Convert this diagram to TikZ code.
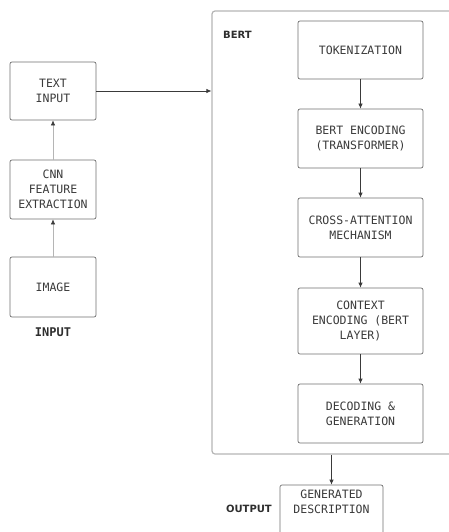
\documentclass[tikz,border=0pt]{standalone}
\usepackage{fontspec}
\setmonofont{DejaVu Sans Mono}
\setsansfont{DejaVu Sans}
\usetikzlibrary{arrows.meta}
\definecolor{ink}{HTML}{3A3A3A}
\definecolor{edge}{HTML}{6E6E6E}
\definecolor{frame}{HTML}{B5B5B5}
\begin{document}
\begin{tikzpicture}
  [x=1pt,y=-1pt,
  blk/.style={draw=edge,line width=0.7pt,rounded corners=2pt,align=center,text=ink,
    font=\ttfamily\fontsize{11.5}{15}\selectfont,
    minimum width=86pt,minimum height=58pt,inner sep=0pt},
  stage/.style={blk,minimum width=125pt},
  tag/.style={text=ink!80!black,font=\sffamily\bfseries\fontsize{10}{12}\selectfont},
  flow/.style={draw=ink,line width=0.7pt,-{Latex[length=5pt,width=4.5pt]}},
  feed/.style={draw=frame,line width=0.7pt,-{Latex[length=5pt,width=4.5pt,color=ink]}}]

  \useasboundingbox (0,0) rectangle (449,532);

  % left column
  \node[blk] (tin) at (53,91) {TEXT\\INPUT};
  \node[blk,minimum height=59pt] (cnn) at (53,189.5) {CNN\\FEATURE\\EXTRACTION};
  \node[blk,minimum height=60pt] (img) at (53,287) {IMAGE};
  \node[tag,font=\ttfamily\bfseries\fontsize{12}{14}\selectfont] (inlbl) at (53,332) {INPUT};

  % BERT block
  \node[draw=frame,line width=1.2pt,rounded corners=3pt,minimum width=260pt,minimum height=443pt,
    inner sep=0pt] (bert) at (342,232.5) {};
  \node[tag,anchor=west,inner sep=0pt] (bertlbl) at (223,35) {BERT};

  \node[stage] (tok) at (360.5,50) {TOKENIZATION};
  \node[stage,minimum height=59pt] (enc) at (360.5,138.5) {BERT ENCODING\\(TRANSFORMER)};
  \node[stage,minimum height=59pt] (xatt) at (360.5,227.5) {CROSS-ATTENTION\\MECHANISM};
  \node[stage,minimum height=66pt] (ctx) at (360.5,321) {CONTEXT\\ENCODING (BERT\\LAYER)};
  \node[stage,minimum height=59pt] (dec) at (360.5,413.5) {DECODING \&\\GENERATION};

  % output
  \node[blk,minimum width=103pt,minimum height=62pt] (gen) at (331.5,516) {GENERATED\\DESCRIPTION\\[14pt]};
  \node[tag,anchor=east,inner sep=0pt] (outlbl) at (272,509) {OUTPUT};

  \draw[feed] (img) -- (cnn);
  \draw[feed] (cnn) -- (tin);
  \draw[flow] (tin.east) -- (tin.east -| bert.west);
  \draw[flow] (tok) -- (enc);
  \draw[flow] (enc) -- (xatt);
  \draw[flow] (xatt) -- (ctx);
  \draw[flow] (ctx) -- (dec);
  \draw[flow] (gen.north |- bert.south) -- (gen);

\end{tikzpicture}
\end{document}
